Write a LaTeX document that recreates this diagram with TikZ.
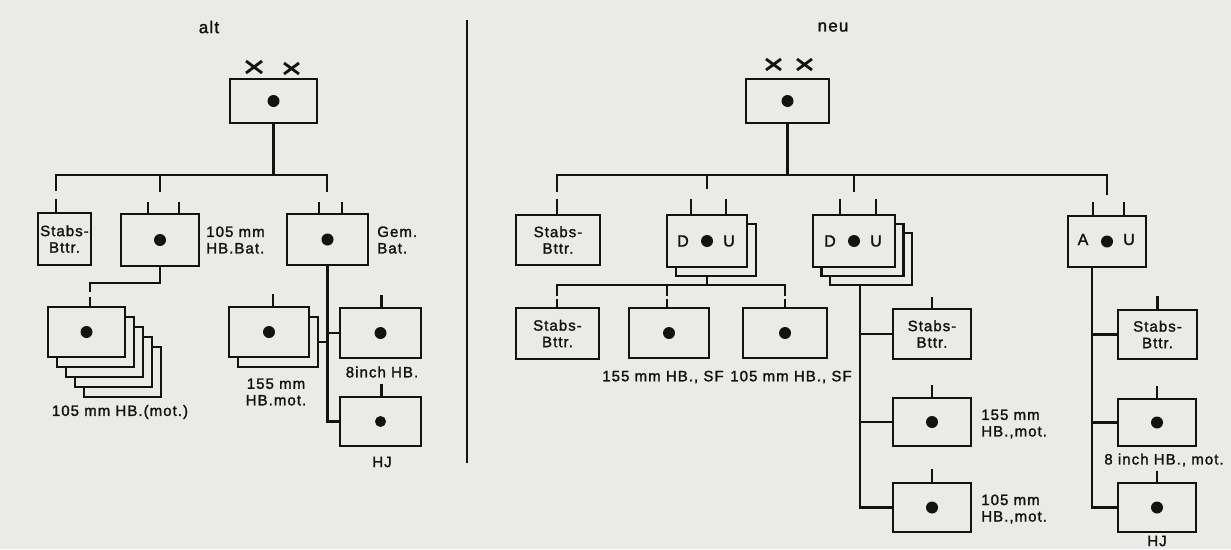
\documentclass[tikz,border=0pt]{standalone}
\usepackage{fontspec}
\setmainfont[LetterSpace=7,FakeBold=1.6]{Liberation Sans}
\definecolor{paper}{RGB}{234,234,231}
\definecolor{ink}{RGB}{18,18,18}
\begin{document}
\begin{tikzpicture}[x=1pt,y=-1pt,line width=2.6pt,draw=ink,
  box/.style={draw=ink,fill=paper,line width=2.7pt,inner sep=0pt},
  lbl/.style={text=ink,inner sep=0pt,font=\fontsize{15}{16.5}\selectfont,align=center},
  lbll/.style={lbl,align=left,anchor=west},
  ttl/.style={text=ink,inner sep=0pt,font=\fontsize{17}{18}\selectfont},
  xmark/.style={draw=ink,line width=2.8pt}]
\useasboundingbox[fill=paper] (0,0) rectangle (1231,549);

% divider
\draw[line width=2.2pt] (467,20) -- (467,463);

%================ LEFT (alt) ================
\node[ttl] (alt) at (209,27) {alt};
\draw[xmark] (246,61) -- (262,73) (246,73) -- (262,61);
\draw[xmark] (284,63) -- (299,74) (284,74) -- (299,63);

\node[box,minimum width=87,minimum height=44] (Ltop) at (273.5,101) {};
\fill[ink] (Ltop.center) circle (6);

\coordinate (LbusL) at (56,175);
\coordinate (LbusR) at (327,175);
\draw (Ltop.south) -- (Ltop.south |- LbusL);
\draw (LbusL) ++(0,16) -- (LbusL) -- (LbusR) -- ++(0,17);

% row 2
\node[box,minimum width=53,minimum height=52] (Lst) at (64.5,239) {};
\node[lbl] at (Lst.center) {Stabs-\\Bttr.};
\draw (Lst.north -| LbusL) -- ++(0,-13);

\node[box,minimum width=78,minimum height=52] (Lb105) at (160,240) {};
\fill[ink] (Lb105.center) circle (6);
\draw (Lb105.north |- LbusL) -- ++(0,17);
\draw ([xshift=-12pt]Lb105.north) -- ++(0,-11);
\draw ([xshift=19pt]Lb105.north) -- ++(0,-11);
\node[lbll] at (205,240) {105 mm\\HB.Bat.};

\node[box,minimum width=81,minimum height=51] (Lgem) at (327.5,239.5) {};
\fill[ink] (Lgem.center) circle (6);
\draw ([xshift=-8.5pt]Lgem.north) -- ++(0,-11);
\draw ([xshift=14.5pt]Lgem.north) -- ++(0,-11);
\node[lbll] at (376,240) {Gem.\\Bat.};

% stacked 105 mm
\foreach \i in {4,3,2,1}
  \node[box,minimum width=77,minimum height=50] at (86.5+9*\i,332+10*\i) {};
\node[box,minimum width=77,minimum height=50] (Ls0) at (86.5,332) {};
\fill[ink] (Ls0.center) circle (6);
\coordinate (Lj) at (90,292);
\draw (Lb105.south) |- (Lj |- 0,283) -- (Lj);
\draw (Ls0.north -| Lj) -- ++(0,-9);
\node[lbl] at (120,412) {105 mm HB.(mot.)};

% 155 stack
\node[box,minimum width=80,minimum height=50] (Ls155b) at (278,342) {};
\node[box,minimum width=80,minimum height=50] (Ls155) at (269,332) {};
\fill[ink] (Ls155.center) circle (6);
\draw ([xshift=4pt]Ls155.north) -- ++(0,-12);
\node[lbl] at (276,392) {155 mm\\HB.mot.};

% 8inch, HJ
\node[box,minimum width=81,minimum height=50] (L8) at (380.5,333) {};
\fill[ink] (L8.center) circle (6);
\draw ([xshift=1pt]L8.north) -- ++(0,-12);
\node[lbl] at (382,372) {8inch HB.};
\node[box,minimum width=81,minimum height=49] (LHJ) at (380.5,421.5) {};
\fill[ink] (LHJ.center) circle (5.5);
\draw ([xshift=1pt]LHJ.north) -- ++(0,-12);
\node[lbl] at (382,462) {HJ};

\draw (Lgem.south) |- (LHJ.west);
\draw (Lgem.south |- L8.west) -- (L8.west);
\draw (Lgem.south |- Ls155b.east) -- (Ls155b.east);

%================ RIGHT (neu) ================
\node[ttl] (neu) at (833,27) {neu};
\draw[xmark] (766,59) -- (781,70) (766,70) -- (781,59);
\draw[xmark] (797,59) -- (812,70) (797,70) -- (812,59);

\node[box,minimum width=83,minimum height=44] (Rtop) at (787.5,101) {};
\fill[ink] (Rtop.center) circle (6);

\coordinate (RbusL) at (557,175);
\coordinate (RbusR) at (1107,175);
\draw (Rtop.south) -- (Rtop.south |- RbusL);
\draw (RbusL) ++(0,17) -- (RbusL) -- (RbusR) -- ++(0,20);

\node[box,minimum width=84,minimum height=50] (Rst) at (558,240) {};
\node[lbl] at (Rst.center) {Stabs-\\Bttr.};
\draw (Rst.north -| RbusL) -- ++(0,-15);

% D.U 1
\node[box,minimum width=80,minimum height=52] (du1b) at (716,250) {};
\node[box,minimum width=80,minimum height=52] (du1) at (707,241) {};
\fill[ink] (du1.center) circle (6);
\node[lbl,font=\fontsize{16}{17}\selectfont] at ([xshift=-24pt]du1.center) {D};
\node[lbl,font=\fontsize{16}{17}\selectfont] at ([xshift=22pt]du1.center) {U};
\draw (du1.north |- RbusL) -- ++(0,14);
\draw ([xshift=-16pt]du1.north) -- ++(0,-15);
\draw ([xshift=19pt]du1.north) -- ++(0,-15);

% D.U 2
\node[box,minimum width=82,minimum height=52] (du2c) at (871,259) {};
\node[box,minimum width=82,minimum height=52] (du2b) at (862.5,250) {};
\node[box,minimum width=82,minimum height=52] (du2) at (854,241) {};
\fill[ink] (du2.center) circle (6);
\node[lbl,font=\fontsize{16}{17}\selectfont] at ([xshift=-24pt]du2.center) {D};
\node[lbl,font=\fontsize{16}{17}\selectfont] at ([xshift=22pt]du2.center) {U};
\draw (du2.north |- RbusL) -- ++(0,17);
\draw ([xshift=-14pt]du2.north) -- ++(0,-15);
\draw ([xshift=22pt]du2.north) -- ++(0,-15);

% A.U
\node[box,minimum width=78,minimum height=51] (AU) at (1107,241.5) {};
\fill[ink] (AU.center) circle (6);
\node[lbl,font=\fontsize{16}{17}\selectfont] at ([xshift=-24pt,yshift=2pt]AU.center) {A};
\node[lbl,font=\fontsize{16}{17}\selectfont] at ([xshift=22pt,yshift=2pt]AU.center) {U};
\draw ([xshift=-14pt]AU.north) -- ++(0,-13);
\draw ([xshift=17pt]AU.north) -- ++(0,-13);

% sub tree of D.U 1
\coordinate (SbL) at (557,285);
\coordinate (SbR) at (785,285);
\draw (du1.south |- du1b.south) -- (du1.south |- SbL);
\node[box,minimum width=83,minimum height=51] (rs2) at (557.5,333.5) {};
\node[lbl] at (rs2.center) {Stabs-\\Bttr.};
\node[box,minimum width=80,minimum height=50] (r155) at (669,333) {};
\fill[ink] (r155.center) circle (6);
\node[box,minimum width=84,minimum height=50] (r105) at (785,333) {};
\fill[ink] (r105.center) circle (6);
\draw (SbL) ++(0,11) -- (SbL) -- (SbR) -- ++(0,11);
\draw (r155.north |- SbL) ++(-2,0) -- ++(0,11);
\draw (rs2.north -| SbL) -- ++(0,-8);
\draw ([xshift=-2pt]r155.north) -- ++(0,-8);
\draw (r105.north -| SbR) -- ++(0,-8);
\node[lbl] at (663,377) {155 mm HB., SF};
\node[lbl] at (791,377) {105 mm HB., SF};

% sub tree of D.U 2
\coordinate (dv) at ([xshift=-11pt]du2c.south);
\node[box,minimum width=78,minimum height=50] (rs3) at (932,334) {};
\node[lbl] at (rs3.center) {Stabs-\\Bttr.};
\node[box,minimum width=78,minimum height=48] (r155m) at (932,422) {};
\fill[ink] (r155m.center) circle (6);
\node[box,minimum width=78,minimum height=49] (r105m) at (932,507.5) {};
\fill[ink] (r105m.center) circle (6);
\draw (dv) |- (r105m.west);
\draw (dv |- rs3.west) -- (rs3.west);
\draw (dv |- r155m.west) -- (r155m.west);
\draw (rs3.north) -- ++(0,-11);
\draw (r155m.north) -- ++(0,-12);
\draw (r105m.north) -- ++(0,-13);
\node[lbll] at (980,424) {155 mm\\HB.,mot.};
\node[lbll] at (980,509) {105 mm\\HB.,mot.};

% sub tree of A.U
\coordinate (av) at ([xshift=-15pt]AU.south);
\node[box,minimum width=79,minimum height=49] (ars) at (1157.5,334.5) {};
\node[lbl] at (ars.center) {Stabs-\\Bttr.};
\node[box,minimum width=78,minimum height=47] (a8) at (1157,422.5) {};
\fill[ink] (a8.center) circle (6);
\node[box,minimum width=78,minimum height=49] (aHJ) at (1157,507.5) {};
\fill[ink] (aHJ.center) circle (6);
\draw (av) |- (aHJ.west);
\draw (av |- ars.west) -- (ars.west);
\draw (av |- a8.west) -- (a8.west);
\draw (ars.north) -- ++(0,-13);
\draw (a8.north) -- ++(0,-12);
\draw (aHJ.north) -- ++(0,-11);
\node[lbl] at (1164,460) {8 inch HB., mot.};
\node[lbl] at (1157,541) {HJ};
\end{tikzpicture}
\end{document}
